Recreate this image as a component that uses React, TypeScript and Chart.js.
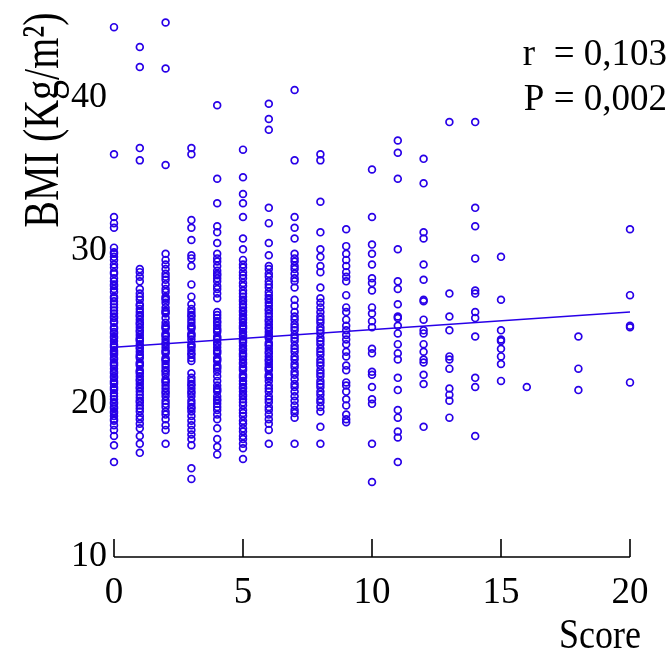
import { useEffect, useRef } from "react";
import { Chart, registerables } from "chart.js";

Chart.register(...registerables);

const FONT = '"Liberation Serif", "Times New Roman", "DejaVu Serif", serif';
const MARK = "rgb(40,0,232)";

const xTickValues = [0, 5, 10, 15, 20];
const yTickValues = [10, 20, 30, 40];
const xTitle = "Score";
const yTitle = "BMI (Kg/m²)";
const statLines = ["r  = 0,103", "P = 0,002"];

const trendX = [0, 20];
const trendY = [23.7, 26.0];

const bmiScore0 = [44.6, 36.3, 32.2, 31.8, 31.5, 30.2, 29.9, 29.8, 29.6, 29.4, 29.1, 28.9, 28.6, 28.5, 28.2, 28.0, 27.8, 27.7, 27.5, 27.3, 27.0, 26.9, 26.7, 26.5, 26.3, 26.1, 25.9, 25.7, 25.6, 25.4, 25.3, 25.0, 24.9, 24.7, 24.6, 24.4, 24.3, 24.1, 23.9, 23.8, 23.7, 23.5, 23.4, 23.3, 23.2, 23.0, 22.9, 22.7, 22.6, 22.5, 22.3, 22.1, 22.0, 21.8, 21.7, 21.5, 21.4, 21.3, 21.1, 21.0, 20.9, 20.7, 20.5, 20.3, 20.1, 20.0, 19.8, 19.7, 19.5, 19.4, 19.2, 19.0, 18.9, 18.6, 18.3, 17.9, 17.3, 16.2];
const bmiScore1 = [43.3, 42.0, 36.7, 35.9, 28.8, 28.6, 28.3, 28.0, 27.5, 27.2, 27.0, 26.8, 26.5, 26.4, 26.2, 26.0, 25.8, 25.7, 25.5, 25.3, 25.2, 25.0, 24.8, 24.7, 24.5, 24.3, 24.2, 24.1, 23.9, 23.7, 23.6, 23.4, 23.2, 23.1, 23.0, 22.7, 22.6, 22.5, 22.2, 22.1, 22.0, 21.8, 21.6, 21.5, 21.3, 21.1, 21.0, 20.8, 20.6, 20.4, 20.2, 20.1, 19.9, 19.7, 19.5, 19.2, 19.0, 18.7, 18.4, 17.9, 17.4, 16.8];
const bmiScore2 = [44.9, 41.9, 35.6, 29.8, 29.4, 29.1, 28.8, 28.5, 28.3, 28.1, 27.8, 27.5, 27.3, 27.0, 26.9, 26.8, 26.6, 26.3, 26.1, 26.0, 25.9, 25.6, 25.3, 25.1, 25.0, 24.9, 24.6, 24.5, 24.4, 24.2, 24.0, 23.9, 23.7, 23.5, 23.4, 23.3, 23.0, 22.9, 22.8, 22.6, 22.4, 22.2, 22.1, 21.9, 21.6, 21.5, 21.4, 21.2, 21.0, 20.8, 20.7, 20.5, 20.2, 20.0, 19.8, 19.5, 19.3, 19.0, 18.6, 18.3, 17.4];
const bmiScore3 = [36.7, 36.3, 32.0, 31.5, 30.7, 29.7, 29.5, 29.0, 27.8, 27.0, 26.5, 26.2, 26.0, 25.8, 25.7, 25.5, 25.3, 25.1, 25.0, 24.9, 24.6, 24.5, 24.4, 24.2, 23.9, 23.8, 23.7, 23.5, 23.3, 23.2, 23.0, 22.8, 22.0, 21.7, 21.5, 21.3, 21.2, 21.0, 20.8, 20.7, 20.5, 20.2, 20.0, 19.8, 19.7, 19.5, 19.2, 18.9, 18.6, 18.3, 18.0, 17.7, 17.3, 15.8, 15.1];
const bmiScore4 = [39.5, 34.7, 33.1, 31.6, 31.2, 30.5, 29.8, 29.5, 29.3, 29.0, 28.7, 28.5, 28.4, 28.2, 28.0, 27.7, 27.5, 27.2, 26.9, 26.0, 25.8, 25.6, 25.4, 25.3, 25.1, 24.9, 24.8, 24.7, 24.4, 24.3, 24.2, 24.0, 23.9, 23.7, 23.5, 23.4, 23.3, 23.0, 22.9, 22.8, 22.5, 22.4, 22.3, 22.1, 21.8, 21.5, 21.2, 21.0, 20.9, 20.8, 20.5, 20.3, 20.2, 20.0, 19.8, 19.6, 19.3, 19.0, 18.4, 17.7, 17.2, 16.7];
const bmiScore5 = [36.6, 34.8, 33.7, 33.1, 32.2, 30.8, 30.1, 29.4, 29.1, 28.9, 28.6, 28.4, 28.2, 27.9, 27.7, 27.4, 27.2, 27.0, 26.8, 26.7, 26.5, 26.3, 26.1, 26.0, 25.8, 25.6, 25.5, 25.3, 25.1, 25.0, 24.9, 24.7, 24.5, 24.4, 24.2, 24.1, 24.0, 23.8, 23.6, 23.5, 23.3, 23.2, 23.1, 22.9, 22.7, 22.6, 22.4, 22.3, 22.2, 21.9, 21.8, 21.7, 21.5, 21.3, 21.1, 21.0, 20.8, 20.6, 20.5, 20.3, 20.1, 19.9, 19.6, 19.4, 19.2, 18.9, 18.7, 18.4, 18.2, 17.9, 17.7, 17.4, 17.1, 16.4];
const bmiScore6 = [39.6, 38.6, 37.9, 32.8, 31.8, 30.5, 29.7, 29.0, 28.8, 28.5, 28.3, 28.0, 27.8, 27.6, 27.3, 27.1, 26.9, 26.8, 26.6, 26.4, 26.2, 26.1, 25.9, 25.7, 25.5, 25.4, 25.2, 25.0, 24.9, 24.7, 24.5, 24.4, 24.3, 24.0, 23.9, 23.8, 23.6, 23.4, 23.3, 23.1, 22.9, 22.8, 22.6, 22.4, 22.3, 22.2, 21.9, 21.8, 21.7, 21.5, 21.2, 21.0, 20.8, 20.5, 20.3, 20.1, 19.8, 19.6, 19.3, 19.0, 18.7, 18.3, 17.4];
const bmiScore7 = [40.5, 35.9, 32.2, 31.5, 30.8, 29.8, 29.5, 29.3, 29.0, 28.8, 28.5, 28.2, 28.0, 27.6, 26.8, 26.4, 26.0, 25.7, 25.5, 25.2, 25.0, 24.8, 24.5, 24.3, 24.1, 23.8, 23.6, 23.4, 23.1, 22.9, 22.6, 22.4, 22.1, 21.9, 21.6, 21.3, 21.1, 20.8, 20.5, 20.2, 19.9, 19.6, 19.4, 19.1, 17.4];
const bmiScore8 = [36.3, 35.9, 33.2, 31.2, 30.1, 29.6, 29.0, 28.6, 27.6, 26.9, 26.6, 26.3, 26.0, 25.7, 25.5, 25.3, 25.0, 24.8, 24.6, 24.3, 24.1, 23.9, 23.6, 23.4, 23.2, 22.9, 22.7, 22.5, 22.2, 22.0, 21.8, 21.5, 21.3, 21.1, 20.8, 20.6, 20.3, 20.1, 19.8, 19.5, 18.5, 17.4];
const bmiScore9 = [31.4, 30.3, 29.8, 29.4, 29.0, 28.6, 28.3, 28.0, 27.1, 26.3, 26.0, 25.5, 25.1, 24.8, 24.5, 24.2, 23.9, 23.4, 23.1, 22.5, 22.2, 21.4, 21.2, 20.8, 20.3, 19.9, 19.3, 19.0, 18.8];
const bmiScore10 = [35.3, 32.2, 30.4, 29.8, 29.1, 28.2, 27.9, 27.4, 26.3, 25.9, 25.4, 25.0, 23.6, 23.3, 22.1, 21.9, 21.1, 20.3, 20.0, 17.4, 14.9];
const bmiScore11 = [37.2, 36.4, 34.7, 30.1, 28.0, 27.5, 26.5, 25.7, 25.6, 25.1, 24.6, 23.9, 23.3, 22.9, 21.7, 20.9, 19.6, 19.1, 18.2, 17.8, 16.2];
const bmiScore12 = [36.0, 34.4, 31.2, 30.8, 29.1, 28.1, 26.8, 26.7, 25.5, 24.8, 24.6, 23.9, 23.4, 22.9, 22.7, 21.9, 21.3, 18.5];
const bmiScore13 = [38.4, 27.2, 25.7, 24.8, 23.1, 22.9, 22.3, 21.0, 20.6, 20.2, 19.1];
const bmiScore14 = [38.4, 32.8, 31.6, 29.5, 27.4, 27.2, 26.0, 25.6, 24.4, 21.7, 21.1, 17.9];
const bmiScore15 = [29.6, 26.8, 24.8, 24.2, 24.1, 23.6, 23.1, 22.6, 21.5];
const bmiScore16 = [21.1];
const bmiScore18 = [24.4, 22.3, 20.9];
const bmiScore20 = [31.4, 27.1, 25.1, 25.0, 21.4];

const scoreColumns: [number, number[]][] = [
  [0, bmiScore0], [1, bmiScore1], [2, bmiScore2], [3, bmiScore3], [4, bmiScore4],
  [5, bmiScore5], [6, bmiScore6], [7, bmiScore7], [8, bmiScore8], [9, bmiScore9],
  [10, bmiScore10], [11, bmiScore11], [12, bmiScore12], [13, bmiScore13], [14, bmiScore14],
  [15, bmiScore15], [16, bmiScore16], [18, bmiScore18], [20, bmiScore20],
];

const decorPlugin = {
  id: "decor",
  afterDraw(chart: any) {
    const ctx = chart.ctx as CanvasRenderingContext2D;
    const xs = chart.scales.x;
    const ys = chart.scales.y;
    const y0 = ys.getPixelForValue(yTickValues[0]);
    ctx.save();
    ctx.strokeStyle = "#000";
    ctx.lineWidth = 1.6;
    ctx.beginPath();
    ctx.moveTo(xs.getPixelForValue(xTickValues[0]), y0);
    ctx.lineTo(xs.getPixelForValue(xTickValues[xTickValues.length - 1]), y0);
    for (const t of xTickValues) {
      const px = xs.getPixelForValue(t);
      ctx.moveTo(px, y0);
      ctx.lineTo(px, y0 - 18);
    }
    ctx.stroke();

    ctx.fillStyle = "#000";
    ctx.save();
    ctx.font = `36px ${FONT}`;
    ctx.textAlign = "right";
    ctx.textBaseline = "alphabetic";
    ctx.translate(641, 648);
    ctx.scale(1, 1.15);
    ctx.fillText(xTitle, 0, 0);
    ctx.restore();

    ctx.font = `37px ${FONT}`;
    ctx.textAlign = "right";
    ctx.fillText(statLines[0], 667, 65);
    ctx.fillText(statLines[1], 667, 110);

    ctx.save();
    ctx.translate(58, 120);
    ctx.rotate(-Math.PI / 2);
    ctx.scale(1, 1.28);
    ctx.font = `40px ${FONT}`;
    ctx.textAlign = "center";
    ctx.textBaseline = "alphabetic";
    ctx.fillText(yTitle, 0, 0);
    ctx.restore();
    ctx.restore();
  },
};

export default function App() {
  const ref = useRef<HTMLCanvasElement>(null);

  useEffect(() => {
    const points: { x: number; y: number }[] = [];
    for (const [score, vals] of scoreColumns) {
      for (const v of vals) points.push({ x: score, y: v });
    }
    const chart = new Chart(ref.current!, {
      type: "scatter",
      data: {
        datasets: [
          {
            data: points,
            pointStyle: "circle",
            pointRadius: 3.4,
            pointBorderWidth: 1.7,
            pointBackgroundColor: "rgba(0,0,0,0)",
            pointBorderColor: MARK,
            showLine: false,
            clip: false,
          },
          {
            data: trendX.map((x, i) => ({ x, y: trendY[i] })),
            showLine: true,
            borderColor: MARK,
            borderWidth: 1.6,
            pointRadius: 0,
          },
        ],
      },
      options: {
        animation: false,
        responsive: true,
        maintainAspectRatio: false,
        events: [],
        layout: { padding: { left: 8, right: 40, top: 1, bottom: 0 } },
        plugins: { legend: { display: false }, tooltip: { enabled: false } },
        scales: {
          x: {
            type: "linear",
            position: "bottom",
            min: 0,
            max: 20,
            afterBuildTicks: (s: any) => {
              s.ticks = xTickValues.map((v) => ({ value: v }));
            },
            afterFit: (s: any) => {
              s.height = 97;
              s.paddingLeft = 0;
              s.paddingRight = 0;
            },
            grid: { display: false, drawTicks: false },
            border: { display: false },
            ticks: {
              color: "#000",
              font: { family: FONT, size: 37 },
              padding: 14,
              maxRotation: 0,
              autoSkip: false,
            },
          },
          y: {
            type: "linear",
            min: 10,
            max: 46,
            afterBuildTicks: (s: any) => {
              s.ticks = yTickValues.map((v) => ({ value: v }));
            },
            afterFit: (s: any) => {
              s.width = 106;
              s.paddingTop = 0;
              s.paddingBottom = 0;
            },
            grid: { display: false, drawTicks: false },
            border: { display: false },
            ticks: {
              color: "#000",
              font: { family: FONT, size: 36 },
              padding: 7,
              autoSkip: false,
            },
          },
        },
      },
      plugins: [decorPlugin],
    });
    return () => chart.destroy();
  }, []);

  return (
    <div style={{ position: "absolute", left: 0, top: 0, width: 670, height: 654, background: "#fff" }}>
      <canvas ref={ref} />
    </div>
  );
}
